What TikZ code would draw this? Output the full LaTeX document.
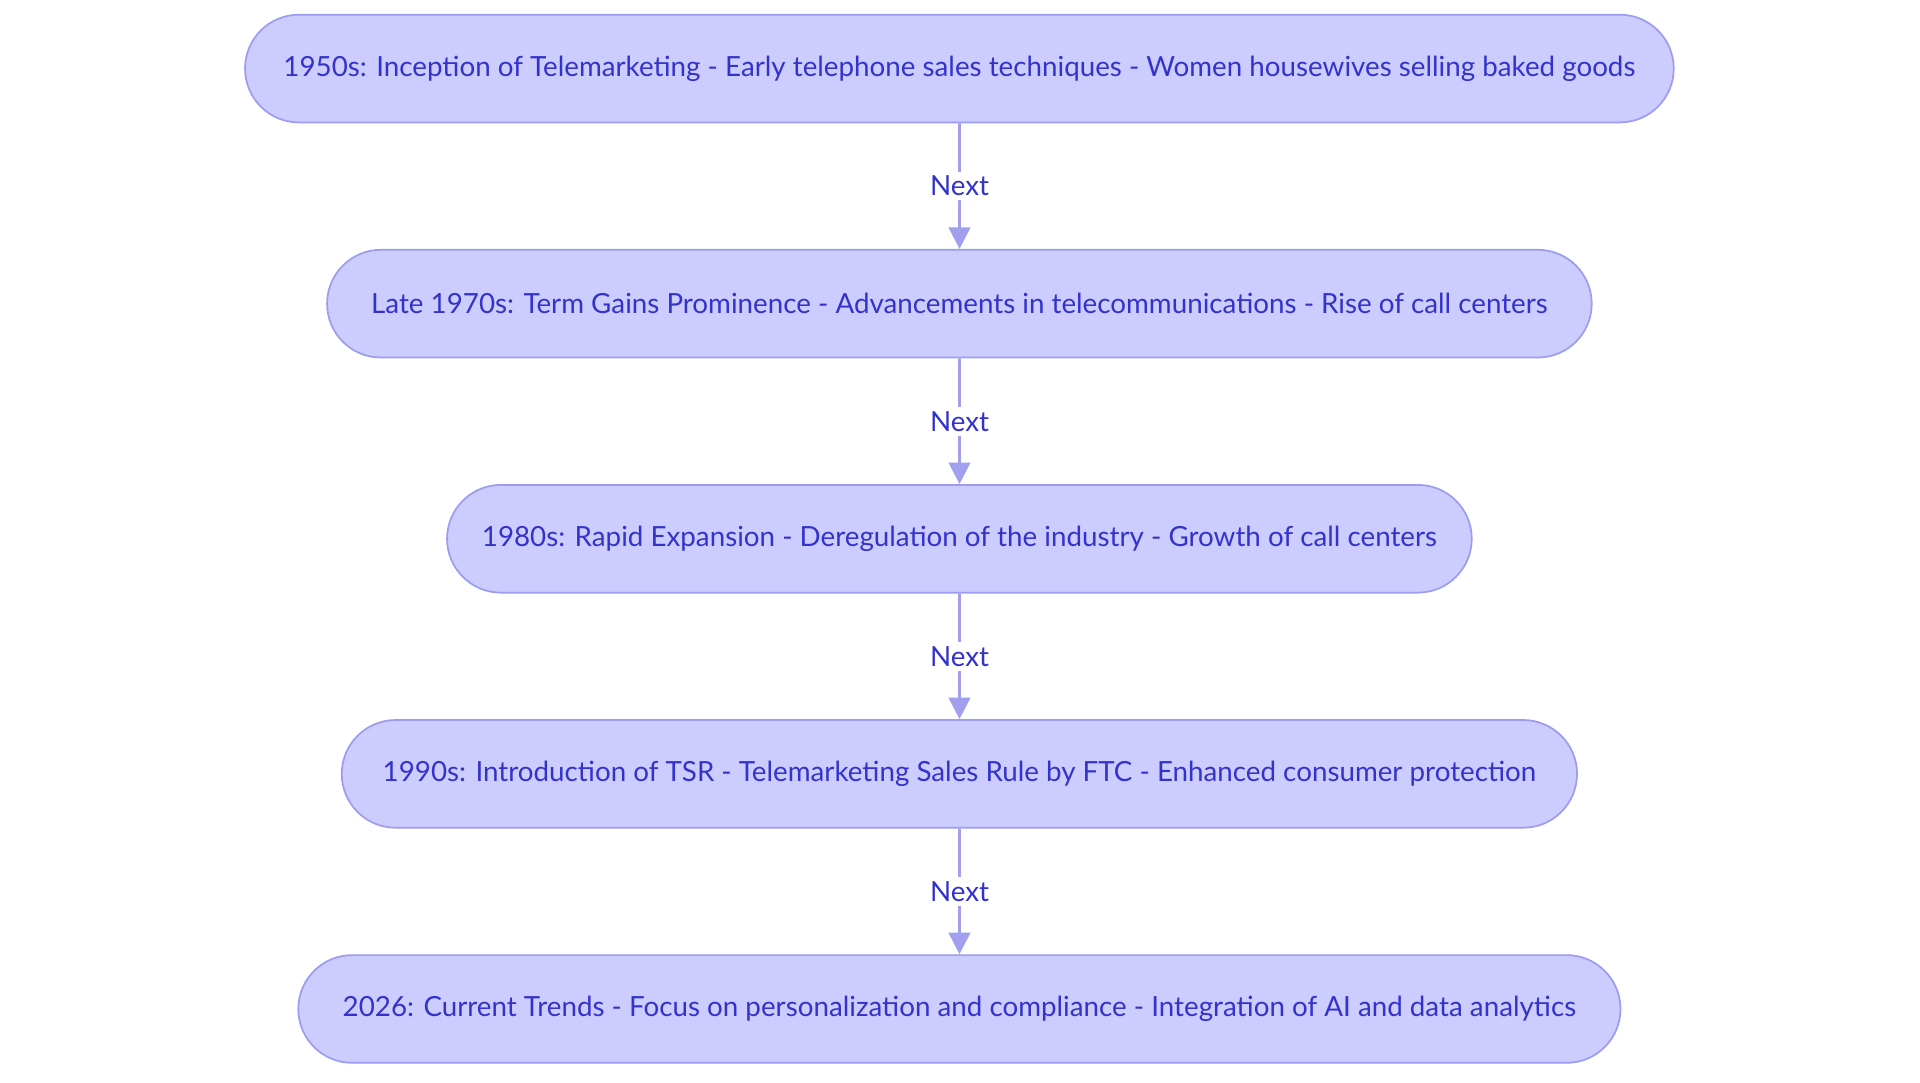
\documentclass[tikz,border=0pt]{standalone}
\usepackage{fontspec}
\setmainfont{Lato}
\usetikzlibrary{shapes.misc,arrows.meta}
\definecolor{nfill}{HTML}{CCCCFF}
\definecolor{nline}{HTML}{9C9CF0}
\definecolor{ntext}{HTML}{3333CC}
\definecolor{eline}{HTML}{A0A0EE}
\begin{document}
\begin{tikzpicture}[x=0.02cm,y=-0.02cm,
  box/.style={rounded rectangle, draw=nline, line width=0.8pt, fill=nfill, text=ntext, minimum height=1.76cm, inner sep=0pt, font=\fontsize{12.9}{14}\selectfont},
  lab/.style={fill=white, text=ntext, font=\fontsize{12.9}{14}\selectfont, inner sep=2pt},
  conn/.style={eline, line width=1.3pt, -{Triangle[length=10pt,width=10pt]}}]
\useasboundingbox[fill=white] (0,0) rectangle (1568,884);
\node[box, minimum width=23.34cm] (a) at (783.5,56) {1950s: Inception of Telemarketing - Early telephone sales techniques - Women housewives selling baked goods};
\node[box, minimum width=20.66cm] (b) at (783.5,248) {Late 1970s: Term Gains Prominence - Advancements in telecommunications - Rise of call centers};
\node[box, minimum width=16.74cm] (c) at (783.5,440) {1980s: Rapid Expansion - Deregulation of the industry - Growth of call centers};
\node[box, minimum width=20.18cm] (d) at (783.5,632) {1990s: Introduction of TSR - Telemarketing Sales Rule by FTC - Enhanced consumer protection};
\node[box, minimum width=21.6cm] (e) at (783.5,824) {2026: Current Trends - Focus on personalization and compliance - Integration of AI and data analytics};
\draw[conn] (a) -- node[lab]{Next} (b);
\draw[conn] (b) -- node[lab]{Next} (c);
\draw[conn] (c) -- node[lab]{Next} (d);
\draw[conn] (d) -- node[lab]{Next} (e);
\end{tikzpicture}
\end{document}
